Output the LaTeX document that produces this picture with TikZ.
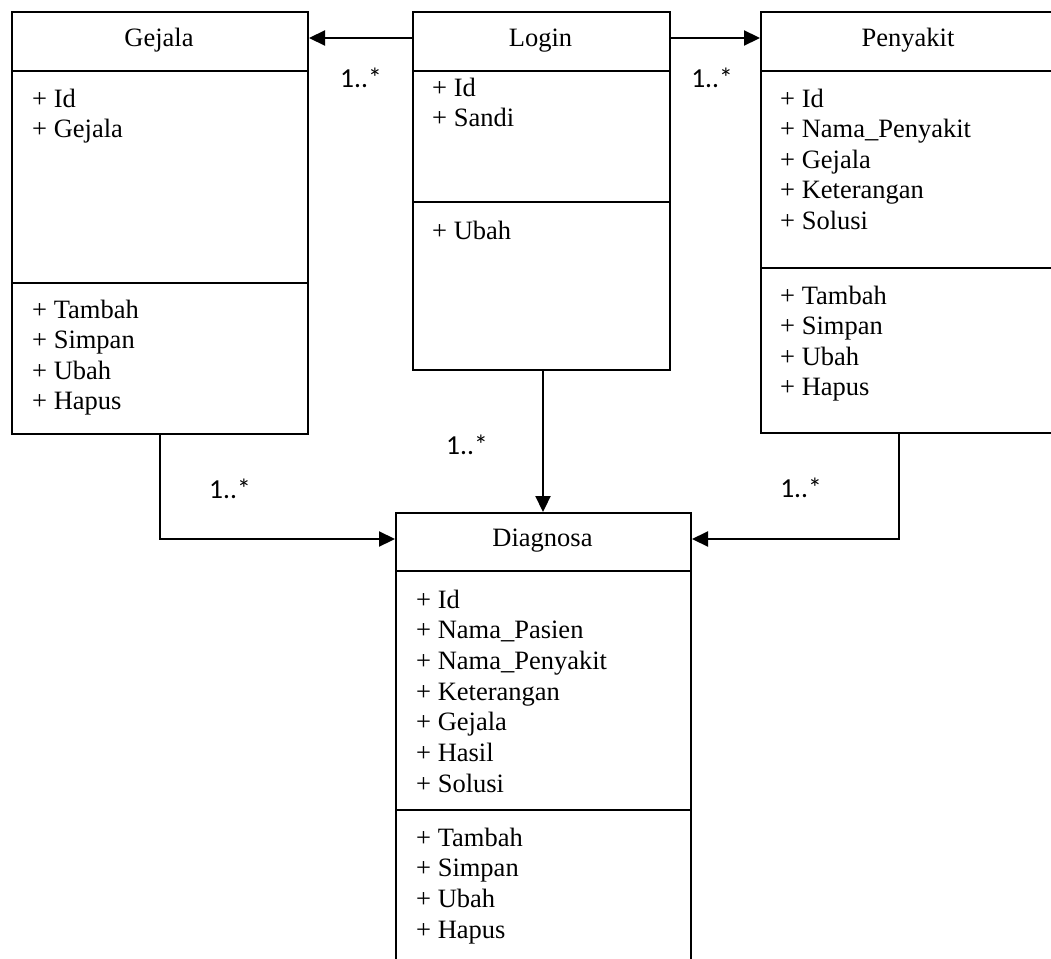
\documentclass[tikz,border=0pt]{standalone}
\usepackage{fontspec}
\setmainfont{Liberation Serif}
\newfontfamily\labfont{Carlito}
\usetikzlibrary{arrows.meta}
\tikzset{
  umlbox/.style={draw, line width=2pt, inner sep=0pt, anchor=north west},
  divider/.style={line width=2pt},
  ttl/.style={anchor=base, inner sep=0pt, font=\fontsize{26.5}{30.5}\selectfont},
  attr/.style={anchor=base west, inner sep=0pt, font=\fontsize{26.5}{30.5}\selectfont},
  mult/.style={inner sep=0pt, font=\labfont\fontsize{27.5}{30}\selectfont},
  conn/.style={line width=2.2pt, -{Triangle[length=16pt,width=15pt]}},
}
% #1 name prefix, #2 x, #3 first baseline, #4 step, #5 list
\newcommand\umlattrs[5]{%
  \foreach \t [count=\i] in {#5}
    \node[attr] (#1\i) at (#2,{#3+#4*(\i-1)}) {\t};%
}
\begin{document}
\begin{tikzpicture}[x=1pt,y=-1pt]
\useasboundingbox (0,0) rectangle (1051,958);

% boxes
\node[umlbox, minimum width=296pt, minimum height=422pt] (gejala) at (11,11) {};
\node[umlbox, minimum width=257pt, minimum height=358pt] (login) at (412,11) {};
\node[umlbox, minimum width=296pt, minimum height=421pt] (penyakit) at (760,11) {};
\node[umlbox, minimum width=295pt, minimum height=460pt] (diagnosa) at (395,512) {};

% dividers
\draw[divider] ([yshift=-60pt]gejala.north west) -- ([yshift=-60pt]gejala.north east);
\draw[divider] ([yshift=-272pt]gejala.north west) -- ([yshift=-272pt]gejala.north east);
\draw[divider] ([yshift=-60pt]login.north west) -- ([yshift=-60pt]login.north east);
\draw[divider] ([yshift=-191pt]login.north west) -- ([yshift=-191pt]login.north east);
\draw[divider] ([yshift=-60pt]penyakit.north west) -- ([yshift=-60pt]penyakit.north east);
\draw[divider] ([yshift=-257pt]penyakit.north west) -- ([yshift=-257pt]penyakit.north east);
\draw[divider] ([yshift=-59pt]diagnosa.north west) -- ([yshift=-59pt]diagnosa.north east);
\draw[divider] ([yshift=-298pt]diagnosa.north west) -- ([yshift=-298pt]diagnosa.north east);

% titles
\node[ttl] (gejalaT) at (159,46.5) {Gejala};
\node[ttl] (loginT) at (540.5,46.5) {Login};
\node[ttl] (penyakitT) at (908,46.5) {Penyakit};
\node[ttl] (diagnosaT) at (542.5,546) {Diagnosa};

% attributes and operations
\umlattrs{ga}{32}{107}{30.5}{+ Id, + Gejala}
\umlattrs{go}{32}{318}{30.5}{+ Tambah, + Simpan, + Ubah, + Hapus}
\umlattrs{la}{432}{96}{30.5}{+ Id, + Sandi}
\umlattrs{lo}{432}{239}{30.5}{+ Ubah}
\umlattrs{pa}{780}{107}{30.5}{+ Id, + Nama\_Penyakit, + Gejala, + Keterangan, + Solusi}
\umlattrs{po}{780}{304}{30.5}{+ Tambah, + Simpan, + Ubah, + Hapus}
\umlattrs{da}{416}{608}{30.7}{+ Id, + Nama\_Pasien, + Nama\_Penyakit, + Keterangan, + Gejala, + Hasil, + Solusi}
\umlattrs{do}{416}{846}{30.7}{+ Tambah, + Simpan, + Ubah, + Hapus}

% connectors
\draw[conn] ([yshift=-27pt]login.north west) -- ([yshift=-27pt]gejala.north east);
\draw[conn] ([yshift=-27pt]login.north east) -- ([yshift=-27pt]penyakit.north west);
\draw[conn] ([xshift=131pt]login.south west) -- ([xshift=148pt]diagnosa.north west);
\draw[conn] ([xshift=149pt]gejala.south west) |- ([yshift=-27pt]diagnosa.north west);
\draw[conn] ([xshift=139pt]penyakit.south west) |- ([yshift=-27pt]diagnosa.north east);

% multiplicities
\node[mult] (m1) at (361,78) {1..*};
\node[mult] (m2) at (712,78) {1..*};
\node[mult] (m3) at (467,445) {1..*};
\node[mult] (m4) at (230,489) {1..*};
\node[mult] (m5) at (801,488) {1..*};
\end{tikzpicture}
\end{document}
